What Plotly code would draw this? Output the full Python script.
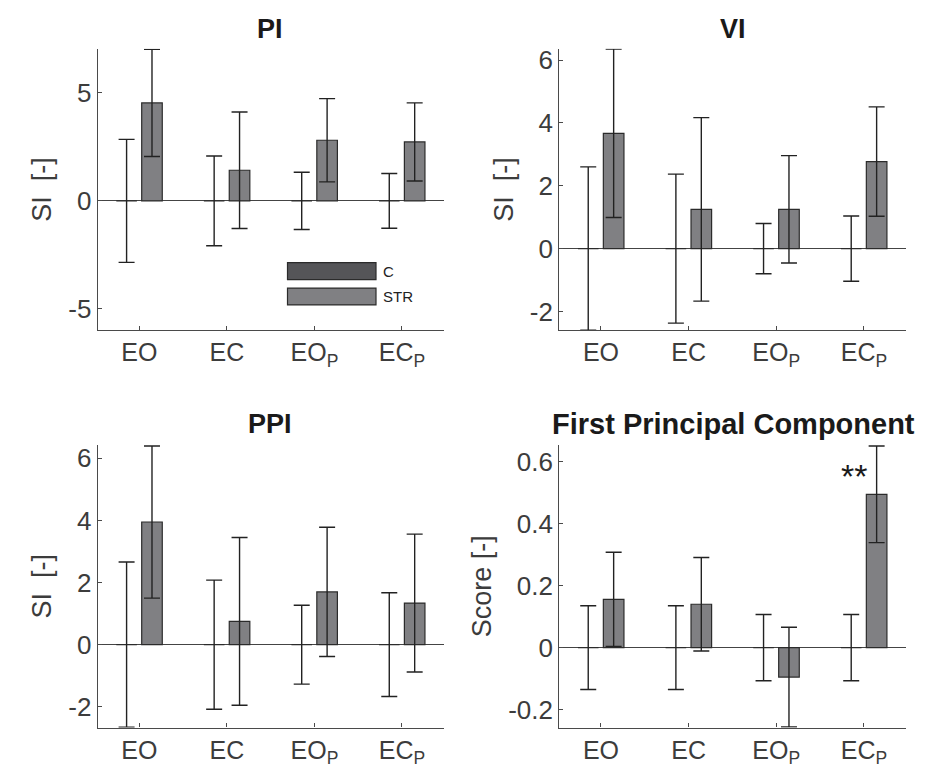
import plotly.graph_objects as go

categories = ["EO", "EC", "EO<sub>P</sub>", "EC<sub>P</sub>"]
groups = ["C", "STR"]

# PI
pi_c = [0, 0, 0, 0]
pi_c_err = [2.85, 2.08, 1.33, 1.27]
pi_str = [4.54, 1.42, 2.81, 2.73]
pi_str_err = [2.48, 2.70, 1.93, 1.81]

# VI
vi_c = [0, 0, 0, 0]
vi_c_err = [2.60, 2.37, 0.80, 1.04]
vi_str = [3.67, 1.25, 1.25, 2.77]
vi_str_err = [2.68, 2.92, 1.71, 1.74]

# PPI
ppi_c = [0, 0, 0, 0]
ppi_c_err = [2.66, 2.08, 1.27, 1.67]
ppi_str = [3.95, 0.75, 1.70, 1.34]
ppi_str_err = [2.45, 2.70, 2.08, 2.22]

# First principal component
fpc_c = [0, 0, 0, 0]
fpc_c_err = [0.135, 0.135, 0.107, 0.107]
fpc_str = [0.156, 0.140, -0.095, 0.495]
fpc_str_err = [0.152, 0.151, 0.161, 0.156]

titles = ["PI", "VI", "PPI", "First Principal Component"]
ylabels = ["SI  [-]", "SI  [-]", "SI  [-]", "Score [-]"]
yranges = [[-6, 7.05], [-2.6, 6.36], [-2.67, 6.43], [-0.258, 0.654]]
ytickvals = [[-5, 0, 5], [-2, 0, 2, 4, 6], [-2, 0, 2, 4, 6], [-0.2, 0, 0.2, 0.4, 0.6]]
yticktext = [["-5", "0", "5"], ["-2", "0", "2", "4", "6"], ["-2", "0", "2", "4", "6"],
             ["-0.2", "0", "0.2", "0.4", "0.6"]]

panels = [
    (pi_c, pi_c_err, pi_str, pi_str_err),
    (vi_c, vi_c_err, vi_str, vi_str_err),
    (ppi_c, ppi_c_err, ppi_str, ppi_str_err),
    (fpc_c, fpc_c_err, fpc_str, fpc_str_err),
]

C_COLOR = "#555558"
STR_COLOR = "#808083"
EDGE = "#2b2b2b"
AXIS = "#4a4a4a"
TXT = "#3c3c3c"
FONT = "Liberation Sans, Arial, sans-serif"

W, H = 940, 778
xdoms = [[97.7 / W, 444 / W], [559.3 / W, 906 / W]]
ydoms = [[1 - 328 / H, 1 - 45 / H], [1 - 727.3 / H, 1 - 443.3 / H]]

fig = go.Figure()

for i, (cv, ce, sv, se) in enumerate(panels):
    ax = "" if i == 0 else str(i + 1)
    fig.add_trace(go.Bar(
        x=categories, y=cv, name=groups[0], marker_color=C_COLOR,
        marker_line=dict(color=EDGE, width=1.2),
        error_y=dict(type="data", array=ce, visible=True, color="#222222", thickness=1.4, width=8),
        xaxis="x" + ax, yaxis="y" + ax, showlegend=False, offsetgroup="c"))
    fig.add_trace(go.Bar(
        x=categories, y=sv, name=groups[1], marker_color=STR_COLOR,
        marker_line=dict(color=EDGE, width=1.2),
        error_y=dict(type="data", array=se, visible=True, color="#222222", thickness=1.4, width=8),
        xaxis="x" + ax, yaxis="y" + ax, showlegend=False, offsetgroup="s"))

    r, c = divmod(i, 2)
    xkey = "xaxis" if i == 0 else f"xaxis{i + 1}"
    ykey = "yaxis" if i == 0 else f"yaxis{i + 1}"
    fig.layout[xkey] = dict(
        domain=xdoms[c], anchor="y" + ax, range=[-0.475, 3.48],
        showline=True, linecolor=AXIS, linewidth=1.3, ticks="inside", ticklen=4,
        tickcolor=AXIS, tickwidth=1.3, showgrid=False, zeroline=False,
        tickfont=dict(family=FONT, size=25, color=TXT), fixedrange=True)
    fig.layout[ykey] = dict(
        domain=ydoms[r], anchor="x" + ax, range=yranges[i],
        tickvals=ytickvals[i], ticktext=yticktext[i],
        showline=True, linecolor=AXIS, linewidth=1.3, ticks="inside", ticklen=4,
        tickcolor=AXIS, tickwidth=1.3, showgrid=False, zeroline=True,
        zerolinecolor="#444444", zerolinewidth=1.2,
        tickfont=dict(family=FONT, size=26, color=TXT),
        title=dict(text=ylabels[i], font=dict(family=FONT, size=27, color=TXT), standoff=8),
        fixedrange=True)

annotations = []
title_pos = [(270, 25, 27), (733, 25, 27), (270, 422, 27), (733, 422, 29)]
for t, (px, py, fs) in zip(titles, title_pos):
    annotations.append(dict(text="<b>" + t + "</b>", x=px / W, y=1 - py / H, xref="paper", yref="paper",
                            showarrow=False, font=dict(family=FONT, size=fs, color="#1a1a1a"),
                            xanchor="center", yanchor="middle"))

# significance marker
annotations.append(dict(text="**", x=categories[3], y=0.555, xref="x4", yref="y4", xshift=-10,
                        showarrow=False, font=dict(family=FONT, size=34, color="#1a1a1a"),
                        xanchor="center", yanchor="middle"))

# manual legend inside PI panel
shapes = []
leg = [(groups[0], C_COLOR, 260, 277), (groups[1], STR_COLOR, 285.5, 302.5)]
for name, col, y0, y1 in leg:
    shapes.append(dict(type="rect", xref="paper", yref="paper",
                       x0=287.5 / W, x1=376 / W, y0=1 - y1 / H, y1=1 - y0 / H,
                       fillcolor=col, line=dict(color=EDGE, width=1.2)))
    annotations.append(dict(text=name, x=381 / W, y=1 - (y0 + y1) / 2 / H, xref="paper", yref="paper",
                            showarrow=False, xanchor="left", yanchor="middle",
                            font=dict(family=FONT, size=15, color="#222222")))

fig.update_layout(
    width=W, height=H, margin=dict(l=0, r=0, t=0, b=0),
    paper_bgcolor="white", plot_bgcolor="white",
    barmode="group", bargap=0.42, bargroupgap=0.19,
    annotations=annotations, shapes=shapes, showlegend=False,
)

fig.write_html("out.html", config={"displayModeBar": False},
               post_script="document.body.style.margin='0';document.body.style.overflow='hidden';")
